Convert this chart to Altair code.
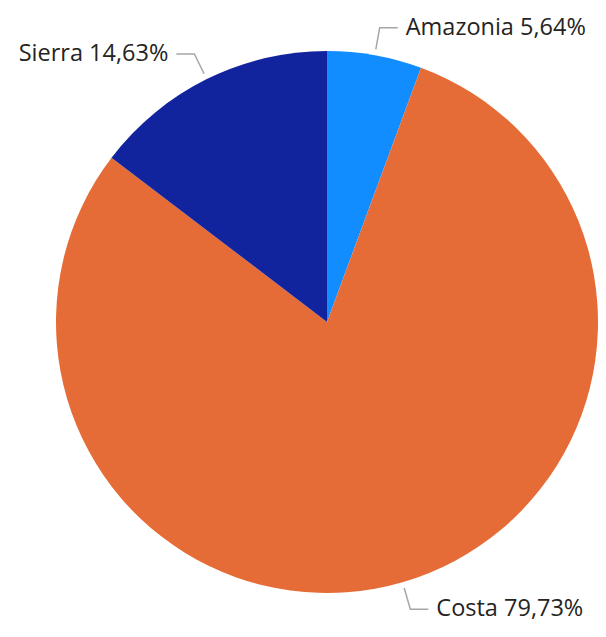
import math
import altair as alt
import pandas as pd

regions = ["Amazonia", "Costa", "Sierra"]
shares = [5.64, 79.73, 14.63]
colors = ["#118DFF", "#E66C37", "#12239E"]

W, H = 590, 616
CX, CY = 319, 314
R = 271

df = pd.DataFrame({"region": regions, "share": shares, "order": range(len(regions))})
df["label"] = [f"{r} {s:.2f}%".replace(".", ",") for r, s in zip(regions, shares)]

# derived geometry for leader lines / labels (from the data)
tot = sum(shares)
cum = 0.0
lines = []
texts = []
for r, s, lab in zip(regions, shares, df["label"]):
    mid = (cum + s / 2) / tot * 2 * math.pi
    cum += s
    sx, sy = math.sin(mid), math.cos(mid)
    side = 1 if sx >= 0 else -1
    p0 = ((R + 6) * sx, (R + 6) * sy)
    p1 = ((R + 28) * sx, (R + 28) * sy)
    p2 = (p1[0] + side * 18, p1[1])
    for i, p in enumerate([p0, p1, p2]):
        lines.append({"region": r, "i": i, "x": p[0], "y": p[1]})
    texts.append({"region": r, "label": lab, "x": p2[0] + side * 8, "y": p2[1], "side": "R" if side > 0 else "L"})

ldf = pd.DataFrame(lines)
tdf = pd.DataFrame(texts)

xs = alt.Scale(domain=[-CX, W - CX], zero=False, nice=False)
ys = alt.Scale(domain=[CY - H, CY], zero=False, nice=False)

pie = alt.Chart(df).mark_arc(radius=R).encode(
    theta=alt.Theta("share:Q", stack=True),
    order=alt.Order("order:Q"),
    color=alt.Color("region:N", scale=alt.Scale(domain=regions, range=colors), legend=None),
    x=alt.value(CX),
    y=alt.value(CY),
)

leader = alt.Chart(ldf).mark_line(color="#A6A6A6", strokeWidth=1.5).encode(
    x=alt.X("x:Q", scale=xs, axis=None),
    y=alt.Y("y:Q", scale=ys, axis=None),
    detail="region:N",
    order="i:Q",
)

font = "Open Sans"
txtR = alt.Chart(tdf).transform_filter(alt.datum.side == "R").mark_text(
    align="left", baseline="middle", font=font, fontSize=23.5, color="#252423"
).encode(x=alt.X("x:Q", scale=xs, axis=None), y=alt.Y("y:Q", scale=ys, axis=None), text="label:N")
txtL = alt.Chart(tdf).transform_filter(alt.datum.side == "L").mark_text(
    align="right", baseline="middle", font=font, fontSize=23.5, color="#252423"
).encode(x=alt.X("x:Q", scale=xs, axis=None), y=alt.Y("y:Q", scale=ys, axis=None), text="label:N")

chart = alt.layer(pie, leader, txtR, txtL).properties(
    width=W, height=H, padding=0, autosize=alt.AutoSizeParams(type="none")
).configure(background="white").configure_view(stroke=None)

chart.save("out.html", embed_options={"renderer": "svg", "actions": False})
